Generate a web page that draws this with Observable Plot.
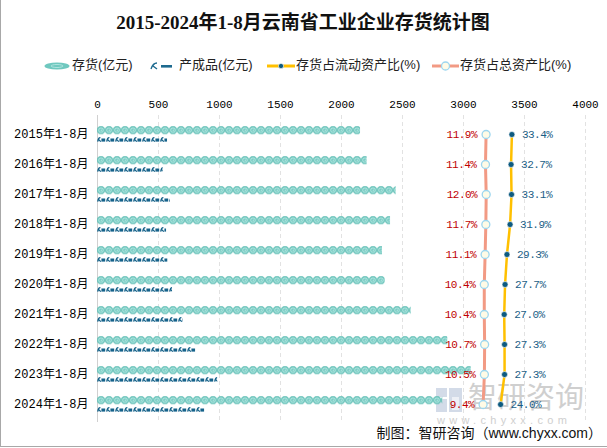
<!DOCTYPE html>
<html>
<head>
<meta charset="utf-8">
<script src="https://cdn.jsdelivr.net/npm/d3@7"></script>
<script src="https://cdn.jsdelivr.net/npm/@observablehq/plot@0.6"></script>
<style>
  html, body { margin: 0; padding: 0; background: #fff; }
  #wrap { position: relative; width: 607px; height: 448px; overflow: hidden; }
  #wrap > svg { position: absolute; left: 0; top: 0; }
</style>
</head>
<body>
<div id="wrap"></div>
<script>
// ---- data ----
const years = ["2015年1-8月","2016年1-8月","2017年1-8月","2018年1-8月","2019年1-8月","2020年1-8月","2021年1-8月","2022年1-8月","2023年1-8月","2024年1-8月"];
const inventory = [2156, 2210, 2448, 2402, 2336, 2358, 2571, 2871, 3063, 2830];   // 存货(亿元)
const finished  = [574, 538, 598, 566, 576, 615, 702, 806, 986, 880];            // 产成品(亿元)
const shareTotal   = [11.9, 11.4, 12.0, 11.7, 11.1, 10.4, 10.4, 10.7, 10.5, 9.4];  // 存货占总资产比(%)
const shareCurrent = [33.4, 32.7, 33.1, 31.9, 29.3, 27.7, 27.0, 27.3, 27.3, 24.0]; // 存货占流动资产比(%)
const xTicks = [0, 500, 1000, 1500, 2000, 2500, 3000, 3500, 4000];

const rows = years.map((y, i) => ({year: y, inv: inventory[i], fin: finished[i], tot: shareTotal[i], cur: shareCurrent[i]}));

// secondary (percent) axis mapped onto the primary x scale
const pct = d3.scaleLinear().domain([0, 100]).range([3068, 4052]);

const cjk = "'Liberation Mono','Noto Sans CJK SC',sans-serif";

// ---- background layer: watermark (drawn beneath the chart) ----
const bg = d3.select("#wrap").append("svg").attr("width", 607).attr("height", 448);
const wm = bg.append("g").attr("opacity", 0.8);
wm.append("rect").attr("x", 436).attr("y", 388).attr("width", 11).attr("height", 9).attr("fill", "#c9d3e3");
wm.append("rect").attr("x", 436).attr("y", 399).attr("width", 11).attr("height", 13).attr("fill", "#c9d3e3");
wm.append("rect").attr("x", 449).attr("y", 388).attr("width", 13).attr("height", 24).attr("fill", "#c9d3e3");
wm.append("rect").attr("x", 452).attr("y", 397).attr("width", 7).attr("height", 13).attr("fill", "#ffffff").attr("opacity", 0.6);
wm.append("text").attr("x", 468).attr("y", 400).attr("dominant-baseline", "middle")
  .attr("font-family", "'Noto Sans CJK SC',sans-serif").attr("font-size", 29).attr("fill", "#c4c4c4").text("智研咨询");
wm.append("text").attr("x", 437).attr("y", 421).attr("dominant-baseline", "middle")
  .attr("font-family", "'Liberation Sans',sans-serif").attr("font-size", 11).attr("letter-spacing", "4.3").attr("fill", "#c4c4c4").text("www.chyxx.com");

const chart = Plot.plot({
  width: 607, height: 448,
  marginLeft: 97, marginRight: 22, marginTop: 115, marginBottom: 26,
  x: {domain: [0, 4000]},
  y: {domain: years, padding: 0},
  style: {fontFamily: cjk, fontSize: "12px", color: "#000", background: "transparent"},
  marks: [
    Plot.ruleX(xTicks.slice(1), {stroke: "#e2e2e2", strokeDasharray: "4,3"}),
    Plot.ruleX([0], {stroke: "#d0d0d0"}),
    Plot.axisX({anchor: "top", ticks: xTicks, tickSize: 0, tickPadding: 8, fontSize: 11, label: null, tickFormat: d => String(d), fill: "#000"}),
    Plot.axisY({anchor: "left", tickSize: 0, tickPadding: 9, label: null, fontSize: 12, fill: "#000"}),
    Plot.barX(rows, {x: "inv", y: "year", insetTop: 7, insetBottom: 14.7, fill: "#6cc5bd", className: "teal-bar"}),
    Plot.barX(rows, {x: "fin", y: "year", insetTop: 18, insetBottom: 7, fill: "#1d6a8f", className: "prod-bar"}),
    Plot.line(rows, {x: d => pct(d.tot), y: "year", stroke: "#f29a84", strokeWidth: 3}),
    Plot.line(rows, {x: d => pct(d.cur), y: "year", stroke: "#ffc000", strokeWidth: 2.5}),
    Plot.dot(rows, {x: d => pct(d.tot), y: "year", r: 4, fill: "#fffbe6", stroke: "#9dd6ef", strokeWidth: 1.3}),
    Plot.dot(rows, {x: d => pct(d.cur), y: "year", r: 3, fill: "#0d5a80", stroke: "#fff", strokeWidth: 0.6}),
    Plot.text(rows, {x: d => pct(d.tot), y: "year", text: d => d.tot.toFixed(1) + "%", dx: -9, textAnchor: "end", fill: "#c00000", fontSize: 11, className: "pct-label"}),
    Plot.text(rows, {x: d => pct(d.cur), y: "year", text: d => d.cur.toFixed(1) + "%", dx: 10, textAnchor: "start", fill: "#1b5e86", fontSize: 11, className: "pct-label"})
  ]
});

const svg = d3.select(chart);
svg.selectAll(".pct-label text").attr("letter-spacing", "-0.5");
const defs = svg.insert("defs", ":first-child");

svg.selectAll(".teal-bar rect").each(function(d, i) {
  const r = d3.select(this);
  const id = "tealpat" + i;
  const h = +r.attr("height");
  const p = defs.append("pattern").attr("id", id).attr("patternUnits", "userSpaceOnUse")
    .attr("x", r.attr("x")).attr("y", r.attr("y")).attr("width", 8).attr("height", h);
  p.append("circle").attr("cx", 4).attr("cy", h / 2).attr("r", 4).attr("fill", "#6fc8bf").attr("stroke", "#5ab7ad").attr("stroke-width", 0.5);
  p.append("circle").attr("cx", 4).attr("cy", h / 2).attr("r", 2.3).attr("fill", "none").attr("stroke", "#bfeae5").attr("stroke-width", 0.9);
  p.append("circle").attr("cx", 4.3).attr("cy", h / 2).attr("r", 0.8).attr("fill", "#bfeae5");
  r.attr("fill", `url(#${id})`);
});
svg.selectAll(".prod-bar rect").each(function(d, i) {
  const r = d3.select(this);
  const id = "prodpat" + i;
  const h = +r.attr("height");
  const p = defs.append("pattern").attr("id", id).attr("patternUnits", "userSpaceOnUse")
    .attr("x", r.attr("x")).attr("y", r.attr("y")).attr("width", 9).attr("height", h);
  p.append("path").attr("d", `M0.7,${h - 0.4} Q1.4,0.4 3.4,0.7 M1.6,${h * 0.5} L3.8,${h - 0.4}`)
    .attr("fill", "none").attr("stroke", "#15628a").attr("stroke-width", 1.3);
  p.append("rect").attr("x", 4.4).attr("y", h * 0.3).attr("width", 3.8).attr("height", h * 0.62).attr("fill", "#15628a");
  r.attr("fill", `url(#${id})`);
});

document.getElementById("wrap").appendChild(chart);

// ---- overlay: title, legend, caption, border ----
const ov = d3.select("#wrap").append("svg").attr("width", 607).attr("height", 448)
  .style("pointer-events", "none");

ov.append("text").attr("x", 303).attr("y", 25).attr("text-anchor", "middle").attr("dominant-baseline", "middle")
  .attr("font-family", "'Liberation Serif','Noto Sans CJK SC',serif").attr("font-weight", "bold").attr("font-size", 19)
  .attr("fill", "#111").text("2015-2024年1-8月云南省工业企业存货统计图");

const ly = 66;
const lfont = "'Liberation Sans','Noto Sans CJK SC',sans-serif";
function ltext(x, t) {
  ov.append("text").attr("x", x).attr("y", ly).attr("dominant-baseline", "middle")
    .attr("font-family", lfont).attr("font-size", 13).attr("fill", "#222").text(t);
}
// item 1
ov.append("ellipse").attr("cx", 57).attr("cy", ly).attr("rx", 12.5).attr("ry", 3.6).attr("fill", "#6fc8bf");
ov.append("ellipse").attr("cx", 57).attr("cy", ly).attr("rx", 6).attr("ry", 1.5).attr("fill", "none").attr("stroke", "#bfeae5").attr("stroke-width", 0.8);
ltext(72, "存货(亿元)");
// item 2
ov.append("path").attr("d", `M151,${ly + 3} Q153,${ly - 3} 157,${ly - 3} M153,${ly} L157,${ly + 3}`).attr("fill", "none").attr("stroke", "#1d6a8f").attr("stroke-width", 1.4);
ov.append("rect").attr("x", 161).attr("y", ly - 1).attr("width", 11).attr("height", 2.6).attr("fill", "#1d6a8f");
ltext(179, "产成品(亿元)");
// item 3
ov.append("line").attr("x1", 267).attr("x2", 295).attr("y1", ly).attr("y2", ly).attr("stroke", "#ffc000").attr("stroke-width", 3);
ov.append("circle").attr("cx", 281).attr("cy", ly).attr("r", 2.6).attr("fill", "#0d5a80").attr("stroke", "#fff").attr("stroke-width", 0.6);
ltext(296, "存货占流动资产比(%)");
// item 4
ov.append("line").attr("x1", 432).attr("x2", 459).attr("y1", ly).attr("y2", ly).attr("stroke", "#f29a84").attr("stroke-width", 3);
ov.append("circle").attr("cx", 445.5).attr("cy", ly).attr("r", 4).attr("fill", "#fffbe6").attr("stroke", "#9dd6ef").attr("stroke-width", 1.3);
ltext(460, "存货占总资产比(%)");

// caption
ov.append("text").attr("x", 602).attr("y", 434).attr("text-anchor", "end").attr("dominant-baseline", "middle")
  .attr("font-family", "'Liberation Sans','Noto Sans CJK SC',sans-serif").attr("font-size", 14).attr("fill", "#111")
  .text("制图：智研咨询（www.chyxx.com）");

// frame lines
ov.append("line").attr("x1", 0.5).attr("x2", 0.5).attr("y1", 0).attr("y2", 447).attr("stroke", "#a8a8a8");
ov.append("line").attr("x1", 0).attr("x2", 607).attr("y1", 446.5).attr("y2", 446.5).attr("stroke", "#a8a8a8");
</script>
</body>
</html>
